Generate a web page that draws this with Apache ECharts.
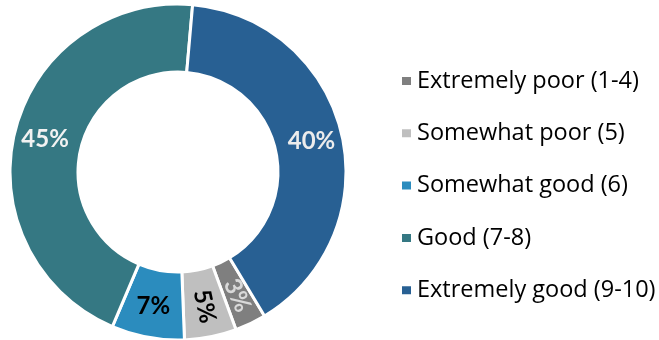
<!DOCTYPE html>
<html>
<head>
<meta charset="utf-8">
<script src="https://cdn.jsdelivr.net/npm/echarts@6/dist/echarts.min.js"></script>
<style>
  body { margin: 0; background: #fff; }
  #chart { width: 659px; height: 340px; }
</style>
</head>
<body>
<div id="chart"></div>
<script>
// ratings, in legend order
var categories = ['Extremely poor (1-4)', 'Somewhat poor (5)', 'Somewhat good (6)', 'Good (7-8)', 'Extremely good (9-10)']
var shares = [3, 5, 7, 45, 40]
var colors = ['#7f7f7f', '#bfbfbf', '#2b8cbe', '#357883', '#286093']
var labelColors = ['#d9d9d9', '#000', '#000', '#f2f2f2', '#ececec']
var labelRotate = [-66, -78, 0, 0, 0]

var font = 'Lato, "Open Sans", sans-serif'

var data = categories.map(function (name, i) {
  return {
    value: shares[i],
    name: name,
    itemStyle: { color: colors[i], borderColor: '#fff', borderWidth: 3 },
    label: { color: labelColors[i], rotate: labelRotate[i] }
  }
})

var chart = echarts.init(document.getElementById('chart'))
chart.setOption({
  animation: false,
  legend: {
    orient: 'vertical',
    left: 395,
    top: 62,
    itemWidth: 11,
    itemHeight: 10,
    itemGap: 24.3,
    icon: 'rect',
    textStyle: { fontFamily: '"Open Sans", sans-serif', fontSize: 23.5, color: '#000', lineHeight: 28 },
    data: categories
  },
  series: [{
    type: 'pie',
    center: [178, 172],
    radius: [100, 168],
    startAngle: -59,
    clockwise: true,
    avoidLabelOverlap: false,
    label: {
      show: true,
      position: 'inside',
      formatter: '{c}%',
      fontFamily: font,
      fontWeight: 'bold',
      fontSize: 24
    },
    labelLine: { show: false },
    emphasis: { disabled: true },
    data: data
  }]
})
</script>
</body>
</html>
